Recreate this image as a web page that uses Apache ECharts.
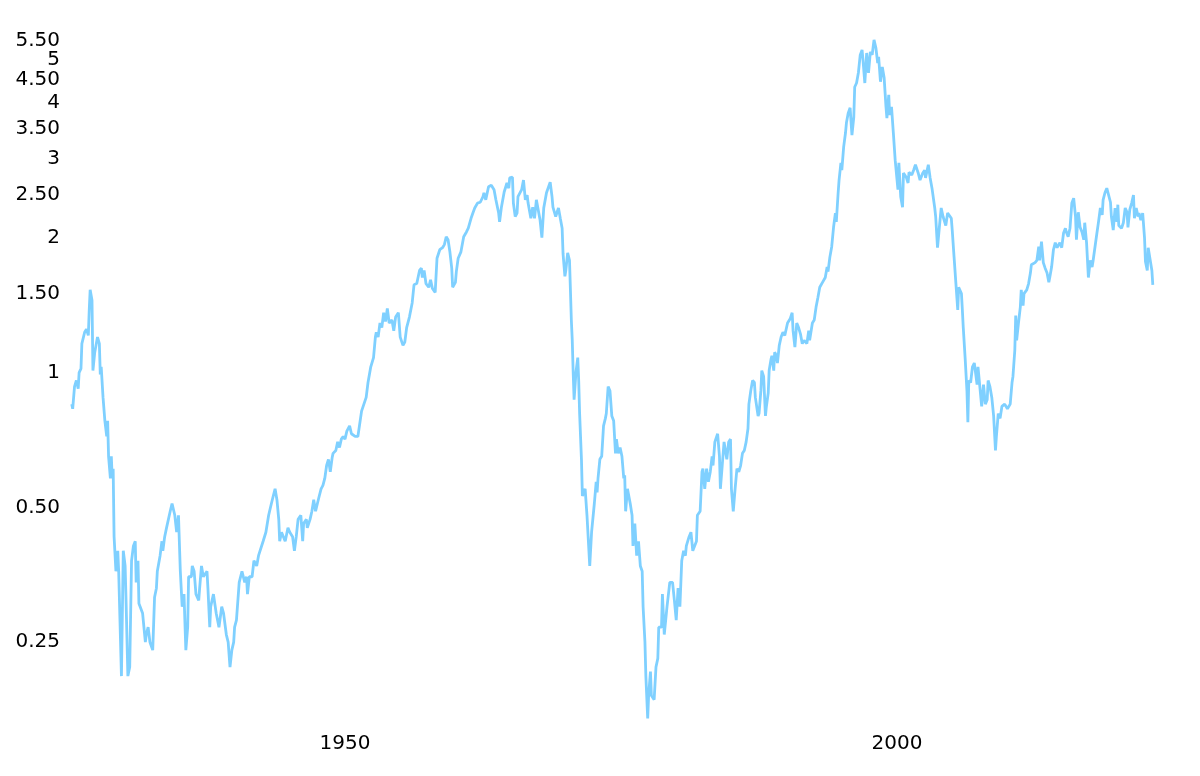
<!DOCTYPE html>
<html>
<head>
<meta charset="utf-8">
<script src="https://cdn.jsdelivr.net/npm/echarts@6/dist/echarts.min.js"></script>
<style>
html,body{margin:0;padding:0;background:#ffffff;}
#chart{width:1200px;height:776px;}
</style>
</head>
<body>
<div id="chart"></div>
<script>
const dates = [
'1925-04','1925-05','1925-07','1925-09','1925-11','1925-12','1926-02','1926-03','1926-05','1926-06','1926-08','1926-10','1926-11','1926-12',
'1927-02','1927-03','1927-05','1927-08','1927-10','1927-11','1927-12','1928-02','1928-04','1928-06','1928-07','1928-08','1928-10','1928-11','1928-12',
'1929-01','1929-02','1929-04','1929-06','1929-07','1929-10','1929-12','1930-02','1930-03','1930-04','1930-05','1930-07','1930-09','1930-11',
'1931-01','1931-02','1931-04','1931-05','1931-09','1931-12','1932-01','1932-03','1932-05','1932-08','1932-10','1932-12',
'1933-01','1933-04','1933-06','1933-07','1933-09','1933-11','1934-03','1934-05','1934-08','1934-10','1934-12',
'1935-02','1935-04','1935-06','1935-08','1935-10','1935-11','1936-02','1936-03','1936-05','1936-07','1936-10','1936-11',
'1937-01','1937-03','1937-07','1937-08','1937-10','1937-11','1938-02','1938-05','1938-07','1938-08','1938-11',
'1939-01','1939-04','1939-06','1939-08','1939-10','1939-12','1940-01','1940-03','1940-06','1940-09','1940-10','1940-12',
'1941-02','1941-03','1941-05','1941-08','1941-10','1942-01','1942-03','1942-05','1942-08','1942-10','1942-11',
'1943-02','1943-03','1943-05','1943-07','1943-09','1943-11','1944-01','1944-02','1944-04','1944-06','1944-08','1944-10','1944-11',
'1945-01','1945-04','1945-06','1945-08','1945-10','1945-11','1946-01','1946-03','1946-04','1946-07','1946-08','1946-11',
'1947-01','1947-03','1947-05','1947-07','1947-09','1947-11','1948-01','1948-03','1948-05','1948-07','1948-09','1948-11','1948-12',
'1949-03','1949-05','1949-07','1949-09','1949-11','1950-01','1950-03','1950-06','1950-08','1950-12','1951-03','1951-07','1951-12',
'1952-02','1952-05','1952-08','1952-10','1952-11','1953-01','1953-03','1953-05','1953-07','1953-09','1953-11',
'1954-01','1954-04','1954-06','1954-08','1954-11','1955-01','1955-04','1955-06','1955-08','1955-11',
'1956-02','1956-04','1956-07','1956-10','1956-12','1957-01','1957-03','1957-05','1957-08','1957-10','1957-12',
'1958-03','1958-05','1958-08','1958-11','1959-01','1959-03','1959-05','1959-07','1959-09','1959-10',
'1960-01','1960-02','1960-04','1960-07','1960-09','1960-10','1961-01','1961-03','1961-06','1961-08','1961-10',
'1962-01','1962-04','1962-07','1962-08','1962-10','1963-01','1963-04','1963-07','1963-09','1963-12',
'1964-01','1964-03','1964-06','1964-09','1964-11','1964-12','1965-03','1965-04','1965-06','1965-08','1965-09','1965-11',
'1966-01','1966-03','1966-05','1966-07','1966-08','1966-11','1967-01','1967-03','1967-05','1967-07','1967-09','1967-11',
'1968-01','1968-04','1968-06','1968-08','1968-10','1968-11','1969-02','1969-05','1969-07','1969-09','1969-10','1969-12',
'1970-01','1970-03','1970-05','1970-06','1970-07','1970-08','1970-09','1970-10','1970-12',
'1971-02','1971-03','1971-04','1971-06','1971-07','1971-10','1971-12','1972-01','1972-03','1972-05','1972-08','1972-10','1972-11','1972-12',
'1973-02','1973-04','1973-06','1973-08','1973-09','1973-11','1974-01','1974-03','1974-05','1974-07','1974-08','1974-10','1974-12',
'1975-02','1975-04','1975-05','1975-06','1975-08','1975-11','1976-01','1976-02','1976-04','1976-06','1976-08','1976-10','1976-12',
'1977-01','1977-03','1977-04','1977-06','1977-07','1977-09','1977-10','1978-01','1978-03','1978-05','1978-06','1978-09','1978-10','1978-12',
'1979-03','1979-04','1979-06','1979-09','1979-11','1980-01','1980-03','1980-05','1980-07','1980-09','1980-11','1980-12',
'1981-03','1981-05','1981-07','1981-09','1981-11','1981-12','1982-03','1982-05','1982-06','1982-08','1982-10','1982-12',
'1983-02','1983-04','1983-05','1983-07','1983-10','1983-12','1984-01','1984-03','1984-05','1984-08','1984-10','1984-12',
'1985-01','1985-03','1985-05','1985-07','1985-09','1985-11','1986-01','1986-03','1986-05','1986-07','1986-08','1986-10','1986-12',
'1987-02','1987-03','1987-06','1987-07','1987-09','1987-10','1987-12','1988-02','1988-03','1988-05','1988-06','1988-08','1988-09','1988-11','1988-12',
'1989-02','1989-03','1989-05','1989-07','1989-09','1989-11','1990-02','1990-05','1990-07','1990-08','1990-10','1990-12',
'1991-02','1991-04','1991-06','1991-08','1991-11','1992-01','1992-02','1992-05','1992-07','1992-09','1992-11',
'1993-01','1993-04','1993-07','1993-09','1993-10','1993-12','1994-02','1994-04','1994-06','1994-07','1994-09','1994-10','1994-12',
'1995-01','1995-03','1995-05','1995-06','1995-08','1995-10','1995-12','1996-02','1996-03','1996-05','1996-07','1996-09','1996-11','1996-12',
'1997-02','1997-04','1997-06','1997-08','1997-10','1997-11','1997-12','1998-02','1998-04','1998-05','1998-07','1998-09','1998-11',
'1999-01','1999-02','1999-04','1999-05','1999-07','1999-09','1999-11','2000-02','2000-03','2000-05','2000-07','2000-08','2000-11',
'2001-01','2001-02','2001-05','2001-07','2001-09','2001-12','2002-02','2002-05','2002-07','2002-08','2002-11',
'2003-01','2003-03','2003-06','2003-07','2003-09','2003-11','2004-01','2004-03','2004-06','2004-08','2004-10','2004-12',
'2005-01','2005-03','2005-05','2005-07','2005-08','2005-11','2005-12','2006-01','2006-03','2006-05','2006-06','2006-07','2006-09','2006-11',
'2007-01','2007-04','2007-05','2007-07','2007-09','2007-11','2008-01','2008-03','2008-04','2008-06','2008-08','2008-10','2008-12',
'2009-01','2009-03','2009-05','2009-07','2009-10','2010-01','2010-04','2010-06','2010-07','2010-09','2010-10','2010-11',
'2011-01','2011-03','2011-04','2011-06','2011-07','2011-10','2011-12','2012-02','2012-03','2012-05','2012-07','2012-09','2012-11','2012-12',
'2013-02','2013-04','2013-06','2013-08','2013-10','2013-11','2014-01','2014-03','2014-05','2014-07','2014-08','2014-10','2014-12',
'2015-02','2015-04','2015-05','2015-07','2015-09','2015-11','2016-01','2016-03','2016-04','2016-06','2016-08','2016-10','2016-12',
'2017-01','2017-03','2017-05','2017-07','2017-09','2017-10','2017-12','2018-02','2018-04','2018-06','2018-08','2018-09','2018-11',
'2019-01','2019-03','2019-05','2019-06','2019-08','2019-10','2019-12','2020-01','2020-02','2020-05','2020-07','2020-09','2020-11','2020-12',
'2021-02','2021-04','2021-06','2021-07','2021-09','2021-11','2021-12','2022-02','2022-04','2022-06','2022-07','2022-09','2022-10','2022-12',
'2023-02','2023-03'
];

const values = [
0.85,0.83,0.93,0.96,0.92,1.00,1.02,1.16,1.17,1.23,1.25,1.21,1.38,1.53,
1.45,1.01,1.11,1.20,1.16,0.99,1.03,0.88,0.78,0.72,0.78,0.65,0.58,0.65,0.58,
0.61,0.43,0.36,0.40,0.36,0.21,0.40,0.37,0.31,0.31,0.21,0.22,0.38,0.41,
0.42,0.34,0.38,0.305,0.29,0.25,0.26,0.27,0.25,0.24,0.315,0.33,
0.36,0.39,0.42,0.40,0.43,0.45,0.49,0.51,0.48,0.44,0.48,
0.36,0.30,0.32,0.24,0.27,0.35,0.35,0.37,0.36,0.32,0.31,0.33,
0.37,0.35,0.36,0.33,0.27,0.30,0.32,0.29,0.29,0.27,0.30,
0.29,0.26,0.25,0.22,0.24,0.25,0.27,0.28,0.34,0.36,0.36,0.34,
0.35,0.32,0.35,0.35,0.38,0.37,0.39,0.39,0.42,0.42,0.44,
0.48,0.49,0.51,0.53,0.55,0.52,0.47,0.42,0.44,0.43,0.42,0.44,0.45,
0.44,0.43,0.40,0.43,0.47,0.47,0.48,0.42,0.46,0.47,0.45,0.47,
0.49,0.52,0.49,0.51,0.53,0.55,0.56,0.58,0.62,0.64,0.60,0.645,0.66,
0.67,0.70,0.68,0.71,0.72,0.71,0.74,0.76,0.73,0.72,0.72,0.82,0.88,
0.95,1.03,1.08,1.20,1.23,1.20,1.29,1.26,1.36,1.30,1.39,
1.29,1.31,1.24,1.33,1.36,1.20,1.15,1.17,1.26,1.33,
1.43,1.57,1.58,1.69,1.71,1.63,1.69,1.58,1.55,1.61,1.54,
1.51,1.80,1.88,1.90,1.93,2.01,1.98,1.86,1.71,1.55,
1.59,1.68,1.80,1.86,1.96,2.01,2.06,2.10,2.21,2.27,2.33,
2.39,2.40,2.47,2.52,2.43,2.60,2.62,2.56,2.43,2.27,
2.17,2.34,2.53,2.65,2.58,2.72,2.73,2.39,2.23,2.27,2.47,2.45,
2.56,2.69,2.43,2.49,2.39,2.21,2.34,2.21,2.43,2.45,2.19,2.00,
2.33,2.52,2.53,2.66,2.47,2.34,2.23,2.33,2.21,2.10,1.84,1.64,
1.69,1.85,1.78,1.53,1.31,1.18,1.00,0.87,1.00,
1.08,0.96,0.81,0.64,0.53,0.55,0.48,0.44,0.37,0.44,0.51,0.57,0.54,0.58,
0.64,0.65,0.76,0.79,0.81,0.93,0.91,0.80,0.78,0.66,0.71,0.66,0.68,
0.65,0.58,0.59,0.49,0.55,0.51,0.48,0.41,0.46,0.39,0.42,0.37,0.36,
0.30,0.25,0.21,0.169,0.19,0.215,0.19,0.186,0.22,0.23,0.27,0.27,0.32,0.26,
0.30,0.30,0.34,0.34,0.31,0.28,0.33,0.30,0.38,0.40,0.39,0.41,
0.43,0.44,0.40,0.40,0.42,0.48,0.49,0.60,0.61,0.55,0.61,0.57,
0.60,0.65,0.62,0.70,0.73,0.65,0.55,0.62,0.70,0.64,0.70,0.71,
0.55,0.49,0.55,0.61,0.60,0.62,0.66,0.67,0.70,0.75,0.85,0.91,0.96,
0.95,0.88,0.80,0.81,0.91,1.01,0.98,0.80,0.84,0.90,1.01,1.07,1.09,1.01,1.11,
1.09,1.05,1.15,1.20,1.23,1.21,1.29,1.32,1.36,1.24,1.14,1.29,
1.26,1.22,1.16,1.18,1.16,1.24,1.18,1.29,1.31,1.40,1.47,
1.55,1.59,1.63,1.72,1.68,1.81,1.91,2.11,2.27,2.17,2.52,2.69,2.94,
2.83,3.19,3.43,3.61,3.80,3.90,3.39,3.72,4.34,4.43,4.67,5.12,5.25,4.99,
4.43,5.17,4.67,5.20,5.12,5.33,5.53,5.31,4.91,5.07,4.46,4.81,4.55,
3.92,3.70,4.17,3.76,3.92,3.43,2.98,2.56,2.94,2.47,2.34,2.79,2.73,
2.65,2.80,2.76,2.83,2.91,2.79,2.69,2.79,2.83,2.72,2.91,
2.72,2.58,2.33,2.23,1.90,2.11,2.33,2.23,2.13,2.27,2.28,2.21,
2.08,1.81,1.58,1.38,1.55,1.50,1.38,1.26,1.08,0.91,0.775,0.96,0.95,1.03,
1.05,0.94,1.03,1.04,0.84,0.94,0.85,0.87,0.96,0.93,0.88,0.80,0.67,
0.72,0.81,0.79,0.84,0.85,0.83,0.85,0.95,0.98,1.12,1.34,1.18,
1.29,1.40,1.53,1.41,1.50,1.53,1.58,1.67,1.74,1.74,1.76,1.78,1.91,1.78,
1.96,1.76,1.71,1.67,1.59,1.63,1.72,1.88,1.95,1.90,1.91,1.95,1.90,
2.05,2.10,2.06,2.01,2.10,2.39,2.45,2.23,1.98,2.28,2.11,2.06,1.98,
2.16,1.95,1.63,1.78,1.72,1.77,1.78,2.03,2.17,2.33,2.25,2.43,2.52,
2.58,2.60,2.40,2.23,2.08,2.33,2.17,2.37,2.13,2.10,2.16,2.33,2.28,2.11,
2.31,2.39,2.49,2.21,2.33,2.23,2.27,2.19,2.27,2.00,1.77,1.69,1.90,1.90,
1.69,1.57
];

// y tick labels; the two sets are drawn by two identical log axes so that
// the crowded top pair (5 / 5.50) are both kept.
const yTickValues = [0.25, 0.5, 1, 1.5, 2, 2.5, 3, 3.5, 4, 4.5, 5];
const yTickLabels = ['0.25', '0.50', '1', '1.50', '2', '2.50', '3', '3.50', '4', '4.50', '5'];
const yTopTickValues = [5.5];
const yTopTickLabels = ['5.50'];
const xTickYears = [1950, 2000];
const xTickLabels = ['1950', '2000'];

// 'YYYY-MM' -> year position (start of month) on the year axis
function toYear(s) {
  const p = s.split('-');
  return parseInt(p[0], 10) + (parseInt(p[1], 10) - 1) / 12;
}

function makeFormatter(vals, labels) {
  return function (v) {
    for (let i = 0; i < vals.length; i++) {
      if (Math.abs(vals[i] - v) < 1e-6) return labels[i];
    }
    return '';
  };
}

const chart = echarts.init(document.getElementById('chart'), null, {renderer: 'canvas'});

const seriesData = dates.map((d, i) => [toYear(d), values[i]]);

const yBase = {
  type: 'log',
  logBase: 1.2,
  min: 0.165,
  max: 5.7,
  position: 'left',
  offset: 0,
  axisLine: {show: false},
  axisTick: {show: false},
  splitLine: {show: false}
};
const labelBase = {
  margin: 9,
  color: '#000000',
  fontFamily: 'DejaVu Sans',
  fontSize: 20,
  hideOverlap: false
};

chart.setOption({
  animation: false,
  backgroundColor: '#ffffff',
  grid: {left: 69, right: 38, top: 34, bottom: 53, containLabel: false},
  xAxis: {
    type: 'value',
    min: 1925,
    max: 2024,
    axisLine: {show: false},
    axisTick: {show: false},
    splitLine: {show: false},
    axisLabel: {
      customValues: xTickYears,
      margin: 11,
      color: '#000000',
      fontFamily: 'DejaVu Sans',
      fontSize: 20,
      formatter: function (v) {
        const i = xTickYears.indexOf(Math.round(v));
        return i >= 0 ? xTickLabels[i] : '';
      }
    }
  },
  yAxis: [
    Object.assign({}, yBase, {
      axisLabel: Object.assign({}, labelBase, {
        customValues: yTickValues,
        formatter: makeFormatter(yTickValues, yTickLabels)
      })
    }),
    Object.assign({}, yBase, {
      axisLabel: Object.assign({}, labelBase, {
        customValues: yTopTickValues,
        formatter: makeFormatter(yTopTickValues, yTopTickLabels)
      })
    })
  ],
  series: [{
    type: 'line',
    yAxisIndex: 0,
    data: seriesData,
    showSymbol: false,
    symbol: 'none',
    lineStyle: {color: '#7fd0ff', width: 2.8},
    itemStyle: {color: '#7fd0ff'}
  }]
});
</script>
</body>
</html>
